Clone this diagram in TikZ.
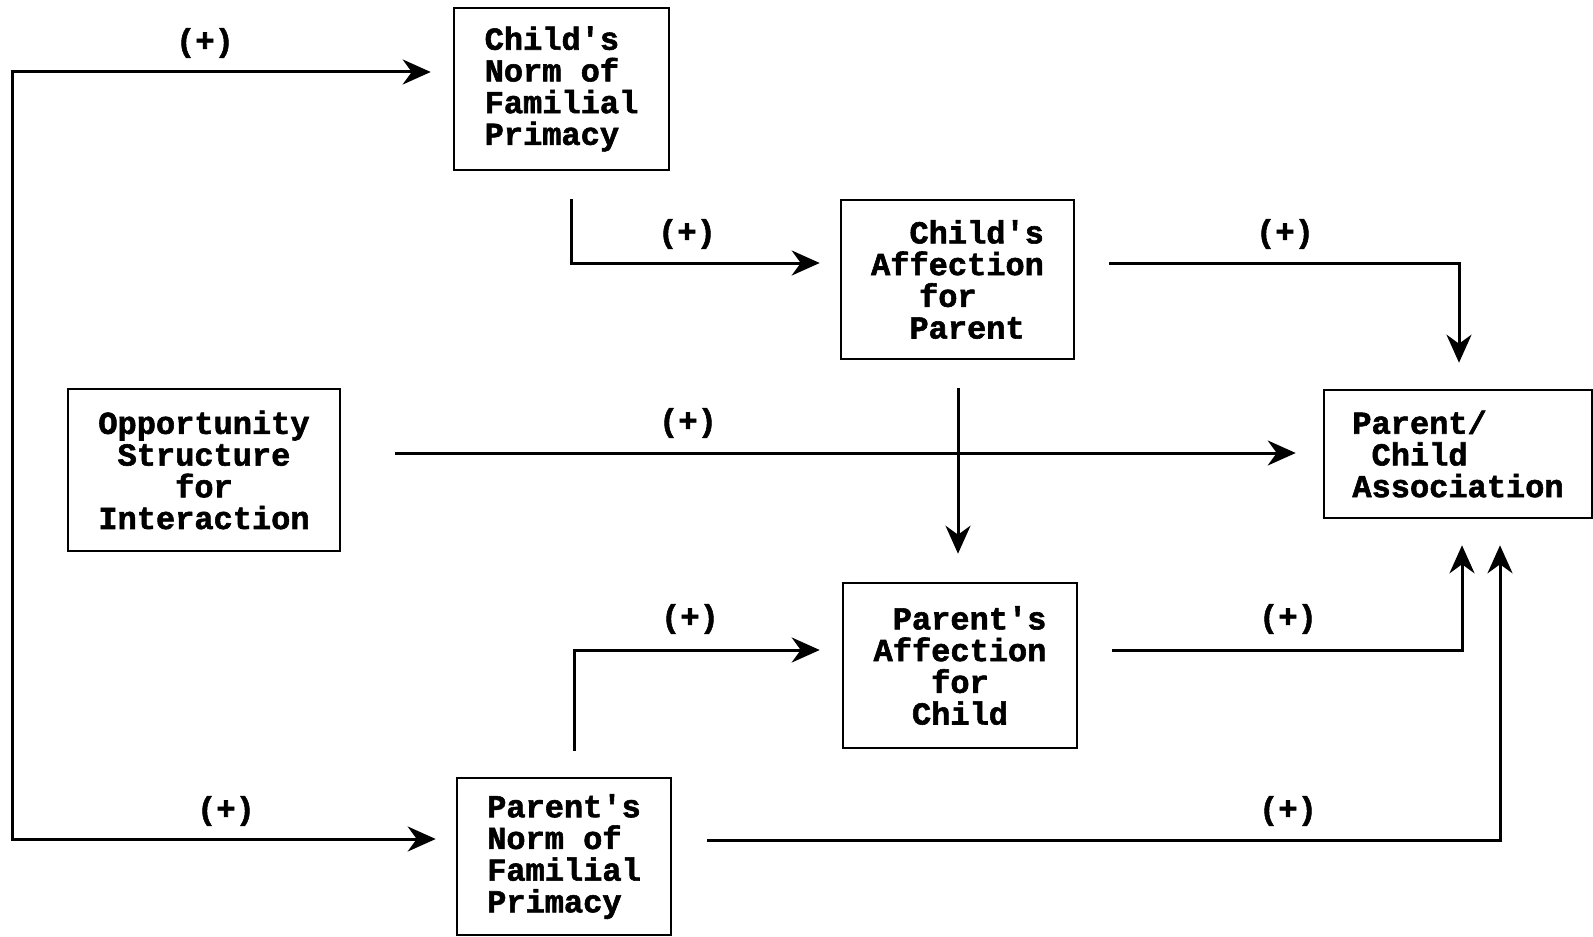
\documentclass[tikz,border=0pt]{standalone}
\usepackage{fontspec}
\newfontfamily\monob{Liberation Mono}[BoldFont={Liberation Mono Bold},BoldFeatures={FakeBold=1.8}]
\usetikzlibrary{arrows.meta,calc}
\newcommand{\ind}[1]{\hspace*{#1\dimexpr 0.6em\relax}}
\tikzset{
  box/.style={draw, line width=1.3pt, align=left, inner sep=0pt,
    font=\monob\bfseries\fontsize{16}{15.85}\selectfont},
  lab/.style={inner sep=0pt, font=\monob\bfseries\fontsize{16}{16}\selectfont},
  arr/.style={line width=1.5pt, -{Stealth[length=14pt,width=12.5pt,inset=4.5pt]}},
  arr2/.style={line width=1.5pt, {Stealth[length=14pt,width=12.5pt,inset=4.5pt]}-{Stealth[length=14pt,width=12.5pt,inset=4.5pt]}}
}
\begin{document}
\begin{tikzpicture}[x=0.5pt,y=-0.5pt]
\useasboundingbox (0,0) rectangle (1593,936);
% boxes
\node[box, minimum width=107.5pt, minimum height=81pt] (CN) at (561.5,89) {Child′s\\Norm of\\Familial\\Primacy};
\node[box, minimum width=116.5pt, minimum height=79.5pt] (CA) at (957.5,279.5) {\ind{2}Child′s\\Affection\\\ind{2.5}for\\\ind{2}Parent};
\node[box, minimum width=136pt, minimum height=81pt, align=center] (OPP) at (204,470) {Opportunity\\Structure\\for\\Interaction};
\node[box, minimum width=134pt, minimum height=64pt] (PCA) at (1458,454) {Parent/\\\ind{1}Child\\Association};
\node[box, minimum width=117pt, minimum height=82.5pt] (PA) at (960,665.5) {\ind{1}Parent′s\\Affection\\\ind{3}for\\\ind{2}Child};
\node[box, minimum width=107pt, minimum height=78.5pt] (PN) at (564,856.5) {Parent′s\\Norm of\\Familial\\Primacy};
% connectors
\coordinate (ltop) at (12,72);
\coordinate (lbot) at (12,839);
\draw[arr2] ($(CN.west)+(-22,-17)$) -- (ltop) -- (lbot) -- ($(PN.west)+(-20,-17.5)$);
\draw[arr] ($(CN.south)+(9.5,28)$) |- ($(CA.west)+(-20,-16.5)$);
\draw[arr] ($(CA.east)+(34,-16.5)$) -| ($(PCA.north)+(1,-26)$);
\draw[arr] ($(OPP.east)+(54,-17)$) -- ($(PCA.west)+(-27,-1)$);
\draw[arr] ($(CA.south)+(0.5,28)$) -- ($(PA.north)+(-2,-28)$);
\draw[arr] ($(PN.north)+(10,-26)$) |- ($(PA.west)+(-22,-15.5)$);
\draw[arr] ($(PA.east)+(34,-15.5)$) -| ($(PCA.south)+(4,26)$);
\draw[arr] ($(PN.east)+(35,-16.5)$) -| ($(PCA.south)+(42,26)$);
% labels
\node[lab] (l1) at (205,43) {(+)};
\node[lab] (l2) at (687,234) {(+)};
\node[lab] (l3) at (1285,234) {(+)};
\node[lab] (l4) at (688,423) {(+)};
\node[lab] (l5) at (690,619) {(+)};
\node[lab] (l6) at (1288,619) {(+)};
\node[lab] (l7) at (226,811) {(+)};
\node[lab] (l8) at (1288,811) {(+)};
\end{tikzpicture}
\end{document}
